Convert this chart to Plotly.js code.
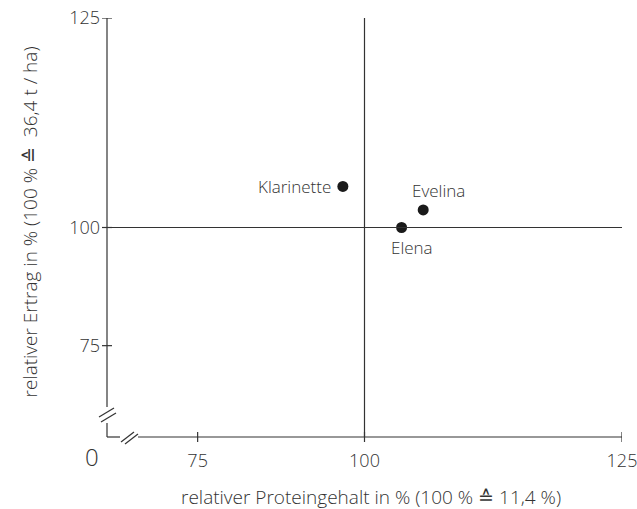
<!DOCTYPE html>
<html><head><meta charset="utf-8">
<script src="https://cdn.plot.ly/plotly-3.0.1.min.js"></script>
<style>html,body{margin:0;padding:0;background:#fff}</style>
</head><body>
<div id="chart" style="width:637px;height:509px"></div>
<script>
// ---- data ----
const varieties = ["Klarinette", "Evelina", "Elena"];
const protein = [97.9, 105.7, 103.6];      // relative protein content in %
const yieldRel = [104.9, 102.1, 100.0];     // relative yield in %
const tickLabels = ["75", "100", "125"];
const originLabel = "0";
const xTitle = "relativer Proteingehalt in % (100 % \u2259 11,4 %)";
const yTitle = "relativer Ertrag in % (100 % \u2259  36,4 t / ha)";
const referenceValue = 100;

// ---- layout helpers ----
const FONT = "'Open Sans', Lato, sans-serif";
const INK = "#333333";
const xTickPos = [83.8, 100, 125];
const yTickPos = [85.9, 100, 125];
const labelShift = {
  "Klarinette": {xanchor: "right", xshift: -10, yshift: 0},
  "Evelina": {xanchor: "center", xshift: 15, yshift: 19},
  "Elena": {xanchor: "center", xshift: 10, yshift: -20}
};

const line = (o) => Object.assign({type: "line", line: {color: INK, width: 1.2}, layer: "above"}, o);
const shapes = [];
// reference lines at 100 %
shapes.push(line({xref: "x", yref: "y", x0: 75, x1: 125, y0: referenceValue, y1: referenceValue}));
shapes.push(line({xref: "x", yref: "y", x0: referenceValue, x1: referenceValue, y0: 75, y1: 125}));
// y axis (with break)
shapes.push(line({xref: "paper", yref: "paper", xsizemode: "pixel", ysizemode: "pixel", xanchor: 0, yanchor: 0, x0: 0, x1: 0, y0: 30, y1: 419}));
shapes.push(line({xref: "paper", yref: "paper", xsizemode: "pixel", ysizemode: "pixel", xanchor: 0, yanchor: 0, x0: 0, x1: 0, y0: 0, y1: 14}));
shapes.push(line({xref: "paper", yref: "paper", xsizemode: "pixel", ysizemode: "pixel", xanchor: 0, yanchor: 0, x0: -8, x1: 7, y0: 20, y1: 29}));
shapes.push(line({xref: "paper", yref: "paper", xsizemode: "pixel", ysizemode: "pixel", xanchor: 0, yanchor: 0, x0: -6, x1: 9, y0: 15, y1: 24}));
// x axis (with break)
shapes.push(line({xref: "paper", yref: "paper", xsizemode: "pixel", ysizemode: "pixel", xanchor: 0, yanchor: 0, x0: 0, x1: 13, y0: 0, y1: 0}));
shapes.push(line({xref: "paper", yref: "paper", xsizemode: "pixel", ysizemode: "pixel", xanchor: 0, yanchor: 0, x0: 31, x1: 515, y0: 0, y1: 0}));
shapes.push(line({xref: "paper", yref: "paper", xsizemode: "pixel", ysizemode: "pixel", xanchor: 0, yanchor: 0, x0: 14, x1: 27, y0: -5, y1: 5}));
shapes.push(line({xref: "paper", yref: "paper", xsizemode: "pixel", ysizemode: "pixel", xanchor: 0, yanchor: 0, x0: 18, x1: 31, y0: -7, y1: 3}));
// crossing ticks
xTickPos.forEach(v => shapes.push(line({xref: "x", yref: "paper", ysizemode: "pixel", yanchor: 0, x0: v, x1: v, y0: -5, y1: 5})));
yTickPos.forEach(v => shapes.push(line({xref: "paper", yref: "y", xsizemode: "pixel", xanchor: 0, x0: -5, x1: 5, y0: v, y1: v})));

const annotations = varieties.map((name, i) => Object.assign({
  x: protein[i], y: yieldRel[i], xref: "x", yref: "y", text: name, showarrow: false,
  yanchor: "middle", font: {family: FONT, size: 17, color: INK, weight: 300}
}, labelShift[name]));
annotations.push({xref: "paper", yref: "paper", x: 0, y: 0, xshift: -15, yshift: -19, text: originLabel,
  showarrow: false, xanchor: "center", yanchor: "middle", font: {family: FONT, size: 24, color: INK, weight: 300}});
annotations.push({xref: "paper", yref: "paper", x: 0.5, y: 0, xshift: 6, yshift: -60, text: xTitle,
  showarrow: false, xanchor: "center", yanchor: "middle", font: {family: FONT, size: 19, color: INK, weight: 300}});
annotations.push({xref: "paper", yref: "paper", x: 0, y: 0.5, xshift: -78, yshift: 5, text: yTitle, textangle: -90,
  showarrow: false, xanchor: "center", yanchor: "middle", font: {family: FONT, size: 19, color: INK, weight: 300}});

const trace = {
  type: "scatter", mode: "markers", x: protein, y: yieldRel, text: varieties,
  marker: {size: 11, color: "#1a1a1a"}, hoverinfo: "text", cliponaxis: false
};

const layout = {
  width: 637, height: 509,
  margin: {l: 107, r: 15, t: 18, b: 72},
  paper_bgcolor: "#ffffff", plot_bgcolor: "#ffffff",
  showlegend: false,
  font: {family: FONT, color: INK},
  xaxis: {range: [75, 125], showgrid: false, zeroline: false, showline: false, ticks: "",
    tickmode: "array", tickvals: xTickPos, ticktext: tickLabels, ticklabelstandoff: 11,
    ticklabeloverflow: "allow", automargin: false,
    tickfont: {family: FONT, size: 18, color: INK, weight: 300}, fixedrange: true},
  yaxis: {range: [75, 125], showgrid: false, zeroline: false, showline: false, ticks: "",
    tickmode: "array", tickvals: yTickPos, ticktext: tickLabels, ticklabelstandoff: 6,
    ticklabeloverflow: "allow", automargin: false,
    tickfont: {family: FONT, size: 18, color: INK, weight: 300}, fixedrange: true},
  shapes: shapes, annotations: annotations
};

Plotly.newPlot("chart", [trace], layout, {displayModeBar: false, staticPlot: true});
</script>
</body></html>
